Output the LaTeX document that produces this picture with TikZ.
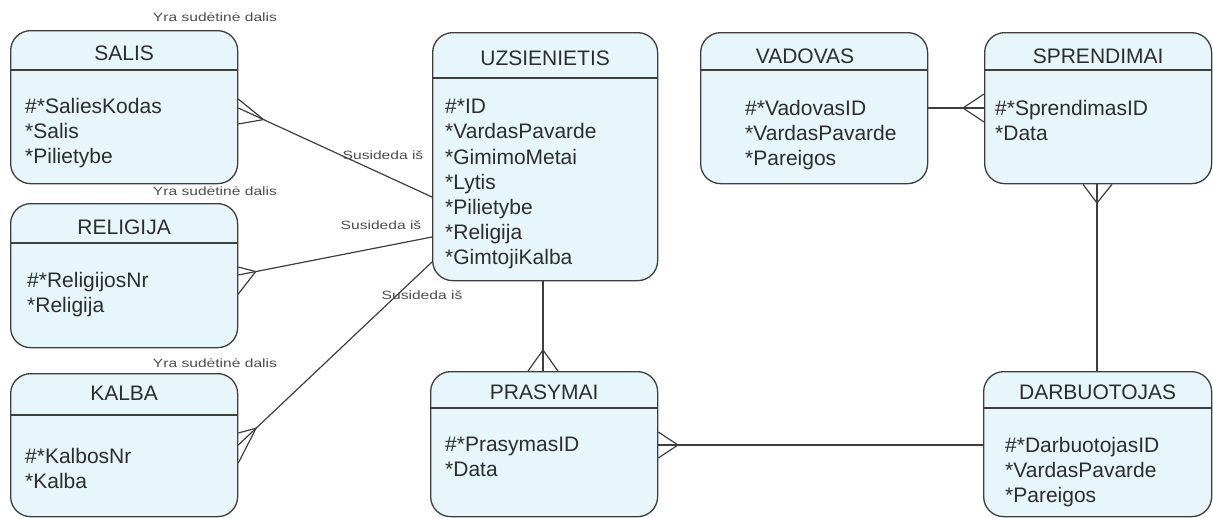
\documentclass[tikz,border=0pt]{standalone}
\usepackage{fontspec}
\setmainfont{Liberation Sans}
\newfontfamily\lblfont{Liberation Sans}[FakeStretch=1.3]
\usetikzlibrary{positioning,calc}

\definecolor{boxfill}{RGB}{230,246,251}
\definecolor{edgegray}{RGB}{62,62,62}
\definecolor{txtgray}{RGB}{45,45,45}

\tikzset{
  entity/.style={draw=edgegray, fill=boxfill, line width=1.3pt, rounded corners=20pt, inner sep=0pt, anchor=north west},
  etitle/.style={font=\fontsize{21}{25}\selectfont, text=txtgray, inner sep=0pt},
  attrs/.style={font=\fontsize{21}{25.2}\selectfont, text=txtgray, align=left, inner sep=0pt, anchor=north west},
  rel/.style={draw=edgegray, line width=1.2pt},
  lbl/.style={font=\lblfont\fontsize{12}{14}\selectfont, text=txtgray!85, inner sep=0pt},
}

\begin{document}
\begin{tikzpicture}[x=1pt,y=-1pt]
  \useasboundingbox (0,0) rectangle (1213,517);

  % left column
  \node[entity, minimum width=227pt, minimum height=153pt] (salis) at (10,30) {};
  \draw[rel] (salis.west |- 0,70) -- (salis.east |- 0,70);
  \node[etitle] (salisT) at (salis.north |- 0,53) {SALIS};
  \node[attrs] (salisA) at (25,98) {\#*SaliesKodas\\*Salis\\*Pilietybe};

  \node[entity, minimum width=227pt, minimum height=144pt] (religija) at (10,203) {};
  \draw[rel] (religija.west |- 0,243) -- (religija.east |- 0,243);
  \node[etitle] (religijaT) at (religija.north |- 0,227) {RELIGIJA};
  \node[attrs] (religijaA) at (27,272) {\#*ReligijosNr\\*Religija};

  \node[entity, minimum width=227pt, minimum height=143pt] (kalba) at (10,373) {};
  \draw[rel] (kalba.west |- 0,415) -- (kalba.east |- 0,415);
  \node[etitle] (kalbaT) at (kalba.north |- 0,393) {KALBA};
  \node[attrs] (kalbaA) at (25,448) {\#*KalbosNr\\*Kalba};

  % middle column
  \node[entity, minimum width=225pt, minimum height=248pt] (uz) at (432,32) {};
  \draw[rel] (uz.west |- 0,78) -- (uz.east |- 0,78);
  \node[etitle] (uzT) at (uz.north |- 0,58) {UZSIENIETIS};
  \node[attrs] (uzA) at (445,99) {\#*ID\\*VardasPavarde\\*GimimoMetai\\*Lytis\\*Pilietybe\\*Religija\\*GimtojiKalba};

  \node[entity, minimum width=227pt, minimum height=145pt] (prasymai) at (430,371) {};
  \draw[rel] (prasymai.west |- 0,408) -- (prasymai.east |- 0,408);
  \node[etitle] (prasymaiT) at (prasymai.north |- 0,392) {PRASYMAI};
  \node[attrs] (prasymaiA) at (445,437) {\#*PrasymasID\\*Data};

  % right side
  \node[entity, minimum width=227pt, minimum height=151pt] (vadovas) at (700,32) {};
  \draw[rel] (vadovas.west |- 0,70) -- (vadovas.east |- 0,70);
  \node[etitle] (vadovasT) at (805,56) {VADOVAS};
  \node[attrs] (vadovasA) at (745,100) {\#*VadovasID\\*VardasPavarde\\*Pareigos};

  \node[entity, minimum width=227pt, minimum height=151pt] (sprendimai) at (984,32) {};
  \draw[rel] (sprendimai.west |- 0,70) -- (sprendimai.east |- 0,70);
  \node[etitle] (sprendimaiT) at (sprendimai.north |- 0,56) {SPRENDIMAI};
  \node[attrs] (sprendimaiA) at (995,100) {\#*SprendimasID\\*Data};

  \node[entity, minimum width=228pt, minimum height=145pt] (darbuotojas) at (983,371) {};
  \draw[rel] (darbuotojas.west |- 0,408) -- (darbuotojas.east |- 0,408);
  \node[etitle] (darbuotojasT) at (darbuotojas.north |- 0,392) {DARBUOTOJAS};
  \node[attrs] (darbuotojasA) at (1005,437) {\#*DarbuotojasID\\*VardasPavarde\\*Pareigos};

  % relations with crow's feet
  \draw[rel] (uz.west |- 0,197) -- (salis.east |- 0,108);
  \coordinate (cfSalis) at ($(salis.east |- 0,108)!0.13!(uz.west |- 0,197)$);
  \draw[rel] (salis.east |- 0,99) -- (cfSalis) -- (salis.east |- 0,124);

  \draw[rel] (uz.west |- 0,237) -- (religija.east |- 0,275);
  \coordinate (cfReligija) at ($(religija.east |- 0,275)!0.09!(uz.west |- 0,237)$);
  \draw[rel] (religija.east |- 0,267) -- (cfReligija) -- (religija.east |- 0,294);

  \draw[rel] (uz.west |- 0,262) -- (kalba.east |- 0,445);
  \coordinate (cfKalba) at ($(kalba.east |- 0,445)!0.092!(uz.west |- 0,262)$);
  \draw[rel] (kalba.east |- 0,433) -- (cfKalba) -- (kalba.east |- 0,463);

  \draw[rel] (uz.south -| 543,0) -- (prasymai.north -| 543,0);
  \coordinate (cfPrasymaiT) at (543,350);
  \draw[rel] (prasymai.north -| 528,0) -- (cfPrasymaiT) -- (prasymai.north -| 558,0);

  \draw[rel] (vadovas.east |- 0,108) -- (sprendimai.west |- 0,108);
  \coordinate (cfSprendimaiL) at (963,108);
  \draw[rel] (sprendimai.west |- 0,94) -- (cfSprendimaiL) -- (sprendimai.west |- 0,122);

  \draw[rel] (sprendimai.south -| 1097,0) -- (darbuotojas.north -| 1097,0);
  \coordinate (cfSprendimaiB) at (1097,203);
  \draw[rel] (sprendimai.south -| 1083,0) -- (cfSprendimaiB) -- (sprendimai.south -| 1112,0);

  \draw[rel] (prasymai.east |- 0,445) -- (darbuotojas.west |- 0,445);
  \coordinate (cfPrasymaiR) at (678,445);
  \draw[rel] (prasymai.east |- 0,432) -- (cfPrasymaiR) -- (prasymai.east |- 0,458);

  % relation labels
  \node[lbl] (yra1) at (215,17) {Yra sudėtinė dalis};
  \node[lbl] (yra2) at (215,191) {Yra sudėtinė dalis};
  \node[lbl] (yra3) at (215,363) {Yra sudėtinė dalis};
  \node[lbl] (sus1) at (383,155) {Susideda iš};
  \node[lbl] (sus2) at (381,225) {Susideda iš};
  \node[lbl] (sus3) at (422,295) {Susideda iš};
\end{tikzpicture}
\end{document}
